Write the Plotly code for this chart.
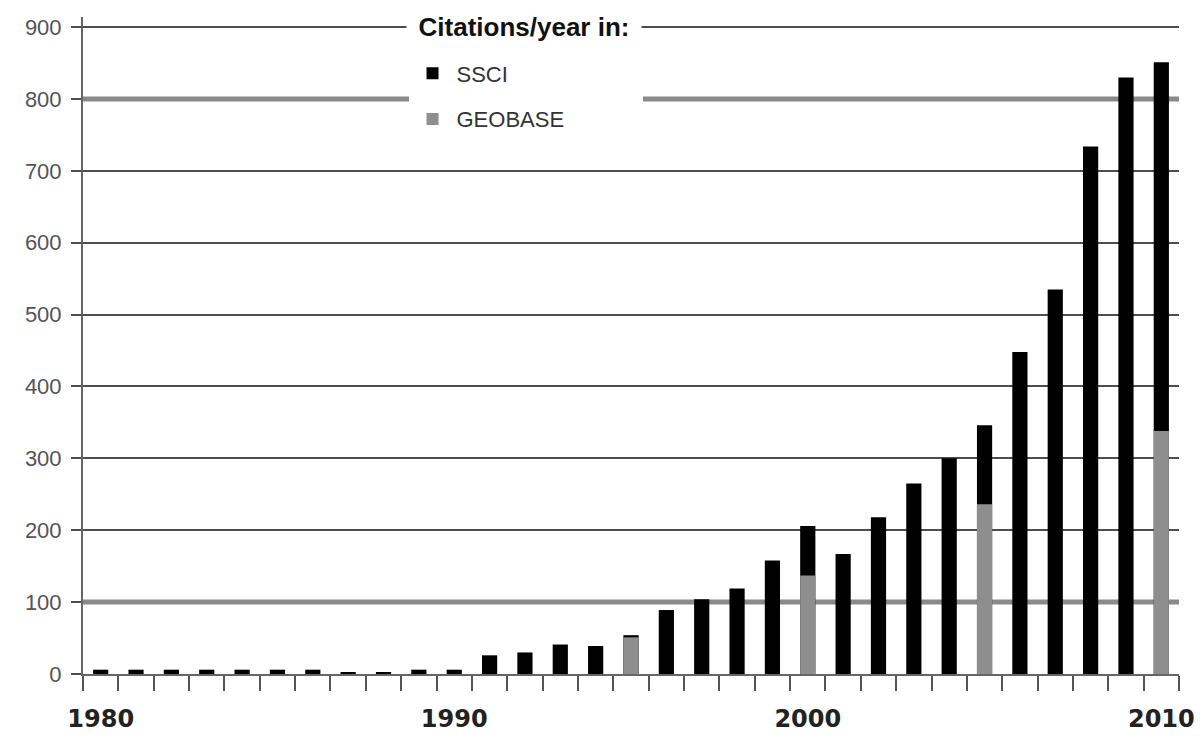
import plotly.graph_objects as go

# ---- data ----
years = list(range(1980, 2011))
ssci = [6, 6, 6, 6, 6, 6, 6, 2, 2, 6,
        6, 26, 30, 41, 39, 54, 89, 104, 119, 158,
        206, 167, 218, 265, 300, 346, 448, 535, 734, 830,
        851]
geobase_years = [1995, 2000, 2005, 2010]
geobase = [51, 137, 236, 338]

series_names = ["SSCI", "GEOBASE"]
y_tick_values = [0, 100, 200, 300, 400, 500, 600, 700, 800, 900]
x_label_years = [1980, 1990, 2000, 2010]
highlight_levels = [100, 800]
legend_heading = "Citations/year in:"

NBSP = "\u00a0"

fig = go.Figure()
fig.add_bar(x=years, y=ssci, name=series_names[0], marker_color="#000000",
            marker_line_width=0, width=0.43, legendgroup="g1")
fig.add_bar(x=geobase_years, y=geobase, name=series_names[1] + NBSP * 12,
            marker_color="#8e8e8e", marker_line_width=0, width=0.43, legendgroup="g2")

x_lo = years[0] - 0.5
x_hi = years[-1] + 0.5
for lv in highlight_levels:
    fig.add_shape(type="line", xref="x", yref="y", x0=x_lo, x1=x_hi, y0=lv, y1=lv,
                  layer="between", line=dict(color="#8a8a8a", width=5))

# heading of the legend, on a white box that interrupts the top gridline
fig.add_annotation(text="<b>" + legend_heading + "</b>", xref="paper", yref="y",
                   x=0.4027, y=y_tick_values[-1], xanchor="center", yanchor="middle",
                   showarrow=False, bgcolor="white", width=232, height=30,
                   font=dict(family="Liberation Sans, Arial", size=26, color="#111111"))

fig.update_layout(
    width=1194, height=732,
    margin=dict(l=75, r=19, t=7, b=54),
    barmode="overlay",
    plot_bgcolor="white", paper_bgcolor="white",
    showlegend=True,
    legend=dict(
        x=0.297, y=0.946, xanchor="left", yanchor="top",
        bgcolor="white", borderwidth=0,
        traceorder="grouped", tracegroupgap=14, itemwidth=38,
        font=dict(family="Liberation Sans, Arial", size=22, color="#333333"),
    ),
    xaxis=dict(
        range=[x_lo, x_hi],
        tickmode="array", tickvals=x_label_years,
        ticks="outside", ticklen=22, tickcolor="rgba(0,0,0,0)",
        ticklabeloverflow="allow",
        tickfont=dict(family="DejaVu Sans", size=24, color="#222222", weight="bold"),
        showline=True, linecolor="#666666", linewidth=2,
        showgrid=False, zeroline=False,
        minor=dict(tick0=x_lo, dtick=1, ticks="outside", ticklen=15,
                   tickcolor="#555555", tickwidth=2, showgrid=False),
    ),
    yaxis=dict(
        range=[0, 914],
        tickmode="array", tickvals=y_tick_values,
        ticks="outside", ticklen=10, tickcolor="#4d4d4d", tickwidth=1.5,
        ticklabelstandoff=5,
        tickfont=dict(family="Liberation Sans, Arial", size=22, color="#555555"),
        showgrid=True, gridcolor="#4d4d4d", gridwidth=1.5,
        showline=True, linecolor="#666666", linewidth=2,
        zeroline=False,
    ),
)

fig.write_html("out.html")
